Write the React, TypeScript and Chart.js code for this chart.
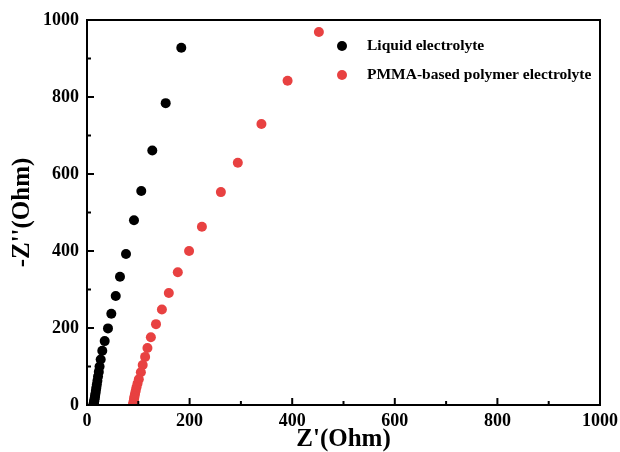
import React, { useEffect, useRef } from "react";
import { Chart, registerables } from "chart.js";

Chart.register(...registerables);

// Liquid electrolyte: Z' (Ohm) and -Z'' (Ohm)
const liquidZre = [183.8, 153.4, 127.3, 105.8, 91.6, 76, 64.3, 56, 47.4, 40.9, 34.5, 29.8, 26.7, 24.5, 23, 21.5, 20.3, 19.2, 18.2, 17.3, 16.5, 15.8, 15.2, 14.6, 14, 13.5, 13, 12.6];
const liquidZim = [928, 784, 661, 556, 480, 392, 333, 283, 237, 199, 166, 141, 118, 100, 86, 74, 63, 53, 45, 37, 30, 24, 19, 14, 10, 6, 3, 1];

// PMMA-based polymer electrolyte
const pmmaZre = [452, 391, 340, 294, 261, 224, 199, 177, 159.5, 146, 134.5, 124.5, 117.8, 113.3, 108.6, 105, 101, 98.5, 96.5, 95, 93.6, 92.6, 91.8, 91.2, 90.7, 90.3, 90];
const pmmaZim = [969, 842, 730, 629, 553, 463, 400, 345, 291, 248, 210, 176, 148, 125, 104, 85, 67, 56, 46, 37, 29, 22, 16, 11, 7, 3, 0.5];

const seriesNames = ["Liquid electrolyte", "PMMA-based polymer electrolyte"];
const seriesColors = ["#000000", "#e84141"];

const axisMin = 0;
const axisMax = 1000;
const majorStep = 200;
const minorStep = 100;

const FONT = "'Liberation Serif', 'DejaVu Serif', serif";

function toPoints(xs: number[], ys: number[]) {
  return xs.map((x, i) => ({ x, y: ys[i] }));
}

const framePlugin = {
  id: "frameTicksLegend",
  afterDatasetsDraw(chart: any) {
    const { ctx, chartArea, scales } = chart;
    const { left, right, top, bottom } = chartArea;
    const xs = scales.x;
    const ys = scales.y;
    ctx.save();
    ctx.strokeStyle = "#000";
    ctx.lineWidth = 2;
    ctx.strokeRect(left, top, right - left, bottom - top);
    // inward ticks
    for (let v = axisMin; v <= axisMax; v += minorStep) {
      const major = v % majorStep === 0;
      const len = major ? 7 : 4;
      const px = xs.getPixelForValue(v);
      ctx.beginPath();
      ctx.moveTo(px, bottom);
      ctx.lineTo(px, bottom - len);
      ctx.stroke();
      const py = ys.getPixelForValue(v);
      ctx.beginPath();
      ctx.moveTo(left, py);
      ctx.lineTo(left + len, py);
      ctx.stroke();
    }
    // legend
    const lx = 342;
    const ly = [46, 75];
    ctx.font = `bold 15.5px ${FONT}`;
    ctx.textBaseline = "middle";
    ctx.textAlign = "left";
    seriesNames.forEach((name, i) => {
      ctx.fillStyle = seriesColors[i];
      ctx.beginPath();
      ctx.arc(lx, ly[i], 5, 0, Math.PI * 2);
      ctx.fill();
      ctx.fillStyle = "#000";
      ctx.fillText(name, lx + 25, ly[i]);
    });
    ctx.restore();
  },
};

const plainTick = (v: any) => String(v);

export default function App() {
  const ref = useRef<HTMLCanvasElement | null>(null);
  useEffect(() => {
    if (!ref.current) return;
    const chart = new Chart(ref.current, {
      type: "scatter",
      data: {
        datasets: [
          {
            label: seriesNames[0],
            data: toPoints(liquidZre, liquidZim),
            backgroundColor: seriesColors[0],
            borderColor: seriesColors[0],
            pointRadius: 5,
            borderWidth: 0,
            clip: 0,
          },
          {
            label: seriesNames[1],
            data: toPoints(pmmaZre, pmmaZim),
            backgroundColor: seriesColors[1],
            borderColor: seriesColors[1],
            pointRadius: 5,
            borderWidth: 0,
            clip: 0,
          },
        ],
      },
      options: {
        responsive: false,
        animation: false,
        layout: { padding: { left: 0, top: 20, right: 20, bottom: 0 } },
        plugins: { legend: { display: false }, tooltip: { enabled: false } },
        scales: {
          x: {
            type: "linear",
            min: axisMin,
            max: axisMax,
            grid: { display: false, drawTicks: false },
            border: { display: false },
            ticks: {
              stepSize: majorStep,
              padding: 6,
              color: "#000",
              maxRotation: 0,
              callback: plainTick,
              font: { family: FONT, size: 18, weight: "bold" },
            },
            title: {
              display: true,
              text: "Z'(Ohm)",
              color: "#000",
              padding: { top: 0, bottom: 0 },
              font: { family: FONT, size: 25, weight: "bold", lineHeight: 1 },
            },
            afterFit(scale: any) {
              scale.height = 47;
              scale.paddingRight = 0;
              scale.paddingLeft = 0;
            },
          },
          y: {
            type: "linear",
            min: axisMin,
            max: axisMax,
            grid: { display: false, drawTicks: false },
            border: { display: false },
            ticks: {
              stepSize: majorStep,
              padding: 8,
              color: "#000",
              callback: plainTick,
              font: { family: FONT, size: 18, weight: "bold" },
            },
            title: {
              display: true,
              text: "-Z''(Ohm)",
              color: "#000",
              padding: { top: 10, bottom: 0 },
              font: { family: FONT, size: 25, weight: "bold", lineHeight: 1 },
            },
            afterFit(scale: any) {
              scale.width = 87;
              scale.paddingTop = 0;
              scale.paddingBottom = 0;
            },
          },
        },
      },
      plugins: [framePlugin],
    });
    return () => chart.destroy();
  }, []);
  return (
    <div style={{ position: "fixed", left: 0, top: 0, width: 620, height: 452, background: "#fff" }}>
      <canvas ref={ref} width={620} height={452} style={{ display: "block" }} />
    </div>
  );
}
